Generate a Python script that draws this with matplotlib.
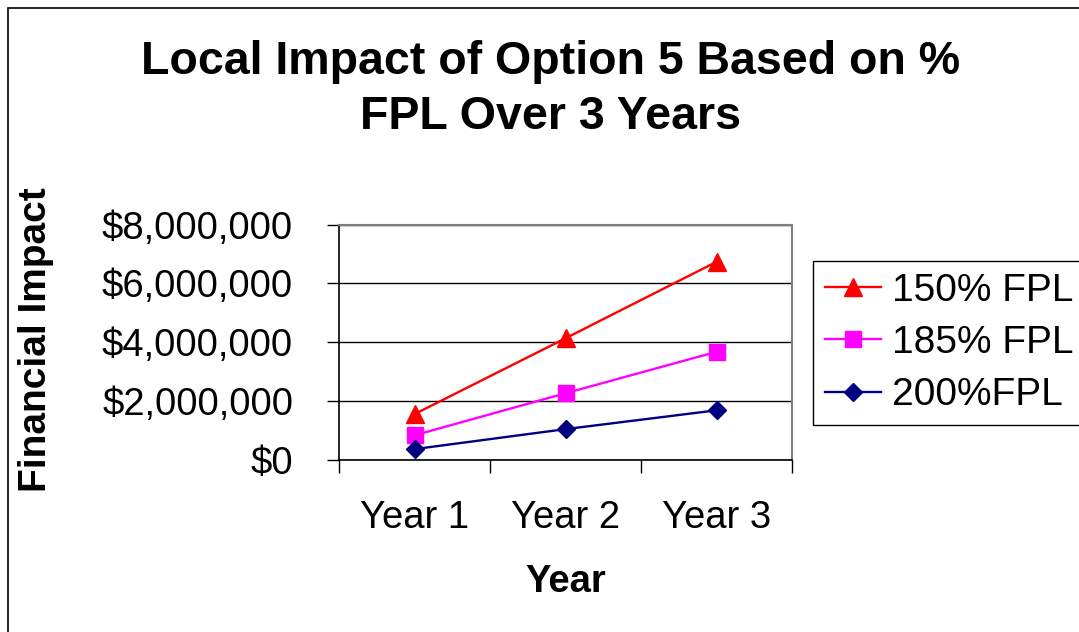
import matplotlib.pyplot as plt
from matplotlib.patches import Rectangle
from matplotlib.ticker import FuncFormatter, FixedLocator

plt.rcParams['font.family'] = ['Liberation Sans', 'DejaVu Sans']

years = ["Year 1", "Year 2", "Year 3"]
fpl_150 = [1550000, 4130000, 6730000]
fpl_185 = [830000, 2260000, 3670000]
fpl_200 = [360000, 1040000, 1680000]

W, H = 1079, 632
fig = plt.figure(figsize=(W / 100, H / 100), dpi=100)

# outer chart border (right/bottom cut off in the original)
fig.patches.append(Rectangle((8 / W, -0.1), 1.2, 1 - 8 / H + 0.1, transform=fig.transFigure,
                             fill=False, edgecolor="black", linewidth=1.2))

ax = fig.add_axes([339 / W, 1 - 459.7 / H, (792 - 339) / W, (459.7 - 224.5) / H])

xs = [i + 0.5 for i in range(len(years))]
ax.plot(xs, fpl_150, color="#FF0000", marker="^", markersize=12.5, linewidth=1.7, label="150% FPL")
ax.plot(xs, fpl_185, color="#FF00FF", marker="s", markersize=11, linewidth=1.7, label="185% FPL")
ax.plot(xs, fpl_200, color="#000080", marker="D", markersize=9, linewidth=1.7, label="200%FPL")

ax.set_xlim(0, len(years))
ax.set_ylim(0, 8000000)
ax.set_yticks([0, 2000000, 4000000, 6000000, 8000000])
ax.yaxis.set_major_formatter(FuncFormatter(lambda v, p: "${:,.0f}".format(v)))
ax.yaxis.grid(True, color="black", linewidth=1)
ax.set_axisbelow(True)

ax.xaxis.set_major_locator(FixedLocator([0, 1, 2, 3]))
ax.xaxis.set_major_formatter(FuncFormatter(lambda v, p: ""))
ax.xaxis.set_minor_locator(FixedLocator(xs))
ax.set_xticklabels(years, minor=True)
ax.tick_params(axis="x", which="major", direction="out", length=9, width=1)
ax.tick_params(axis="x", which="minor", length=0, pad=29, labelsize=27.5)
ax.tick_params(axis="y", direction="out", length=9, width=1, pad=24, labelsize=27.5)

for s in ["top", "right"]:
    ax.spines[s].set_color("#808080")
    ax.spines[s].set_linewidth(1.5)
for s in ["left", "bottom"]:
    ax.spines[s].set_color("black")
    ax.spines[s].set_linewidth(1.2)

fig.text(551 / W, 1 - 40 / H, "Local Impact of Option 5 Based on %\nFPL Over 3 Years",
         ha="center", va="top", fontsize=33.5, fontweight="bold", linespacing=1.32)
fig.text(36 / W, 1 - 340 / H, "Financial Impact", rotation=90, ha="center", va="center",
         fontsize=28, fontweight="bold")
fig.text(566 / W, 1 - 582 / H, "Year", ha="center", va="center", fontsize=27.5, fontweight="bold")

fig.legend(loc="upper left", bbox_to_anchor=(813 / W, 1 - 261 / H), borderaxespad=0,
           fontsize=28, frameon=True, fancybox=False, edgecolor="black", framealpha=1,
           handlelength=1.45, handletextpad=0.28, borderpad=0.3, labelspacing=0.42)

fig.savefig("out.png", dpi=100)
